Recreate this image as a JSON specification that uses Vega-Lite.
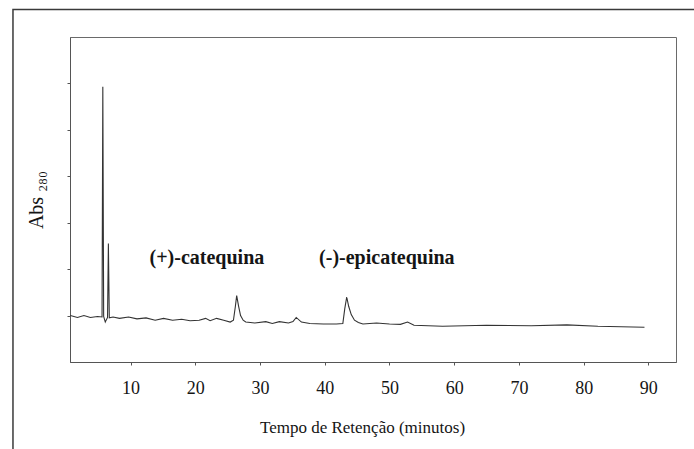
{
  "$schema": "https://vega.github.io/schema/vega-lite/v6.json",
  "autosize": {"type": "none"},
  "padding": {"left": 70, "top": 37, "right": 18, "bottom": 87},
  "width": 606,
  "height": 325,
  "background": "white",
  "config": {
    "view": {"stroke": "#6a6a6a", "strokeWidth": 1},
    "text": {"font": "Liberation Serif"},
    "axis": {"grid": false, "domainColor": "#555555", "tickColor": "#555555", "labelFont": "Liberation Serif", "titleFont": "Liberation Serif", "labelColor": "#151515", "titleColor": "#151515", "titleFontWeight": "normal"}
  },
  "datasets": {
    "chrom": [
      {"t": 0.7, "abs": 1.0},
      {"t": 1.8, "abs": 0.96},
      {"t": 2.8, "abs": 1.0},
      {"t": 3.8, "abs": 0.96},
      {"t": 4.9, "abs": 0.98},
      {"t": 5.6, "abs": 0.97},
      {"t": 5.72, "abs": 5.93},
      {"t": 5.85, "abs": 0.98},
      {"t": 6.1, "abs": 0.86},
      {"t": 6.45, "abs": 0.96},
      {"t": 6.58, "abs": 2.55},
      {"t": 6.72, "abs": 0.95},
      {"t": 7.3, "abs": 0.97},
      {"t": 8.3, "abs": 0.94},
      {"t": 9.7, "abs": 0.97},
      {"t": 11.0, "abs": 0.93},
      {"t": 12.4, "abs": 0.95},
      {"t": 13.8, "abs": 0.9},
      {"t": 15.1, "abs": 0.94},
      {"t": 16.5, "abs": 0.9},
      {"t": 17.9, "abs": 0.92},
      {"t": 19.2, "abs": 0.89},
      {"t": 20.6, "abs": 0.9},
      {"t": 21.6, "abs": 0.94},
      {"t": 22.3, "abs": 0.89},
      {"t": 23.3, "abs": 0.94},
      {"t": 24.4, "abs": 0.9},
      {"t": 25.4, "abs": 0.86},
      {"t": 25.9, "abs": 0.9},
      {"t": 26.2, "abs": 1.2},
      {"t": 26.4, "abs": 1.43},
      {"t": 26.7, "abs": 1.2},
      {"t": 27.0, "abs": 1.0},
      {"t": 27.4, "abs": 0.9},
      {"t": 27.8, "abs": 0.86},
      {"t": 29.2, "abs": 0.84},
      {"t": 30.9, "abs": 0.87},
      {"t": 31.9, "abs": 0.83},
      {"t": 33.0, "abs": 0.87},
      {"t": 34.4, "abs": 0.84},
      {"t": 35.1, "abs": 0.87},
      {"t": 35.6, "abs": 0.96},
      {"t": 36.4, "abs": 0.86},
      {"t": 37.7, "abs": 0.83},
      {"t": 39.8, "abs": 0.82},
      {"t": 41.8, "abs": 0.82},
      {"t": 42.8, "abs": 0.83},
      {"t": 43.1, "abs": 1.15},
      {"t": 43.4, "abs": 1.4},
      {"t": 43.7, "abs": 1.2},
      {"t": 44.1, "abs": 1.02},
      {"t": 44.6, "abs": 0.9},
      {"t": 45.2, "abs": 0.85},
      {"t": 45.9, "abs": 0.82},
      {"t": 48.0, "abs": 0.84},
      {"t": 50.0, "abs": 0.82},
      {"t": 51.7, "abs": 0.81},
      {"t": 52.8, "abs": 0.86},
      {"t": 53.8, "abs": 0.79},
      {"t": 58.2, "abs": 0.77},
      {"t": 65.0, "abs": 0.79},
      {"t": 71.9, "abs": 0.78},
      {"t": 77.4, "abs": 0.8},
      {"t": 82.2, "abs": 0.77},
      {"t": 89.4, "abs": 0.75}
    ],
    "labels": [
      {"t": 21.8, "abs": 2.25, "name": "(+)-catequina"},
      {"t": 49.6, "abs": 2.25, "name": "(-)-epicatequina"}
    ],
    "frame": [{}]
  },
  "layer": [
    {
      "data": {"name": "chrom"},
      "mark": {"type": "line", "color": "#333333", "strokeWidth": 1.1, "interpolate": "linear"},
      "encoding": {
        "x": {
          "field": "t", "type": "quantitative",
          "scale": {"domain": [0.65, 94.27], "nice": false, "zero": false},
          "axis": {"values": [10, 20, 30, 40, 50, 60, 70, 80, 90], "title": "Tempo de Retenção (minutos)", "labelFontSize": 18, "titleFontSize": 17, "tickSize": 3, "labelPadding": 14, "titlePadding": 22, "labelFlush": false, "titleX": 292}
        },
        "y": {
          "field": "abs", "type": "quantitative",
          "scale": {"domain": [0, 7], "nice": false},
          "axis": {"values": [1, 2, 3, 4, 5, 6], "labels": false, "tickSize": 3, "title": "Abs ₂₈₀", "titleFontSize": 20, "titlePadding": 20}
        }
      }
    },
    {
      "data": {"name": "labels"},
      "mark": {"type": "text", "font": "Liberation Serif", "fontWeight": "bold", "fontSize": 20, "color": "#151515", "align": "center", "baseline": "middle"},
      "encoding": {
        "x": {"field": "t", "type": "quantitative"},
        "y": {"field": "abs", "type": "quantitative"},
        "text": {"field": "name"}
      }
    },
    {
      "data": {"name": "frame"},
      "mark": {"type": "rect", "filled": false, "stroke": "#3a3a3a", "strokeWidth": 1.5, "clip": false},
      "encoding": {
        "x": {"datum": -8.16, "type": "quantitative"},
        "x2": {"datum": 110},
        "y": {"datum": 7.59, "type": "quantitative"},
        "y2": {"datum": -2.4}
      }
    }
  ]
}
